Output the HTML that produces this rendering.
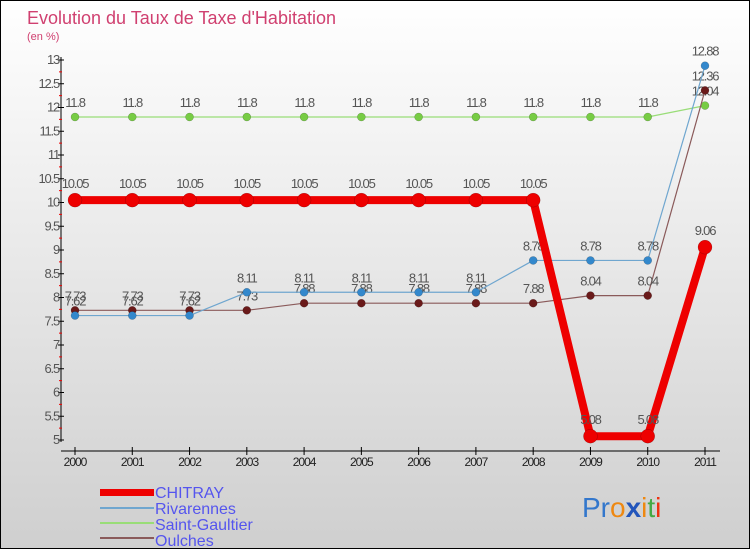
<!DOCTYPE html>
<html><head><meta charset="utf-8"><style>
body{margin:0;width:750px;height:550px;overflow:hidden;font-family:"Liberation Sans",sans-serif}
</style></head><body>
<svg id="chart" width="750" height="550" xmlns="http://www.w3.org/2000/svg" font-family="Liberation Sans, sans-serif">
<defs><linearGradient id="bg" x1="0" y1="0" x2="0" y2="1"><stop offset="0" stop-color="#ffffff"/><stop offset="1" stop-color="#cfcfcf"/></linearGradient></defs>
<rect x="0.5" y="0.5" width="749" height="548" fill="url(#bg)" stroke="#000"/>
<text x="27" y="24" font-size="18" fill="#d04070">Evolution du Taux de Taxe d'Habitation</text>
<text x="27" y="40" font-size="11" fill="#d04070">(en %)</text>
<g id="axes"></g><g id="series"></g>
<g>
<rect x="100" y="489" width="54" height="7" fill="#e00"/>
<rect x="100" y="507" width="54" height="2" fill="#6fa6cf"/>
<rect x="100" y="522" width="54" height="2" fill="#99dd77"/>
<rect x="100" y="537" width="54" height="2" fill="#8a5a5a"/>
<text x="155" y="498" font-size="16" fill="#5555ee">CHITRAY</text>
<text x="155" y="514" font-size="16" fill="#5555ee">Rivarennes</text>
<text x="155" y="530" font-size="16" fill="#5555ee">Saint-Gaultier</text>
<text x="155" y="546" font-size="16" fill="#5555ee">Oulches</text>
</g>
<text x="582" y="517" font-size="28"><tspan fill="#3377cc">Pr</tspan><tspan fill="#ee8811">o</tspan><tspan fill="#2255bb" font-weight="bold">x</tspan><tspan fill="#ee8811">i</tspan><tspan fill="#44aa44">t</tspan><tspan fill="#ee3311">i</tspan></text>
</svg>
<script>
const years=[2000,2001,2002,2003,2004,2005,2006,2007,2008,2009,2010,2011];
const yTicks=[5,5.5,6,6.5,7,7.5,8,8.5,9,9.5,10,10.5,11,11.5,12,12.5,13];
const chitray=[10.05,10.05,10.05,10.05,10.05,10.05,10.05,10.05,10.05,5.08,5.08,9.06];
const rivarennes=[7.62,7.62,7.62,8.11,8.11,8.11,8.11,8.11,8.78,8.78,8.78,12.88];
const saintGaultier=[11.8,11.8,11.8,11.8,11.8,11.8,11.8,11.8,11.8,11.8,11.8,12.04];
const oulches=[7.73,7.73,7.73,7.73,7.88,7.88,7.88,7.88,7.88,8.04,8.04,12.36];
const NS="http://www.w3.org/2000/svg";
const X=i=>75+i*(630/11);
const Y=v=>440-(v-5)*47.5;
function mk(p,t,a){const e=document.createElementNS(NS,t);for(const k in a)e.setAttribute(k,a[k]);p.appendChild(e);return e;}
const ax=document.getElementById('axes');
let e=mk(ax,'line',{x1:61,y1:57,x2:61,y2:442,stroke:'#000'});


e=mk(ax,'line',{x1:61,y1:451,x2:720,y2:451,stroke:'#000'});


yTicks.forEach(v=>{
 const t=mk(ax,'line',{x1:58,y1:Y(v),x2:64,y2:Y(v),stroke:'#000'});
 
 
 if(v<13){const m=mk(ax,'line',{x1:59,y1:Y(v+0.25),x2:62,y2:Y(v+0.25),stroke:'#e00'});
 
 }
 const l=mk(ax,'text',{x:59,y:Y(v)+4,'font-size':13,'text-anchor':'end',fill:'#555','letter-spacing':'-1.2'});l.textContent=String(v);
 
 
});
years.forEach((yr,i)=>{
 const t=mk(ax,'line',{x1:X(i),y1:447,x2:X(i),y2:455,stroke:'#000'});
 
 
 const l=mk(ax,'text',{x:X(i),y:466,'font-size':12,'text-anchor':'middle',fill:'#222','letter-spacing':'-1'});l.textContent=yr;
 
 
});
const sg=document.getElementById('series');
function draw(name,vals,color,dot,w,r,lblOff){
 const g=mk(sg,'g',{});
 
 
 const pl=mk(g,'polyline',{points:vals.map((v,i)=>X(i)+','+Y(v)).join(' '),fill:'none',stroke:color,'stroke-width':w,'stroke-linejoin':'round'});
 
 
 vals.forEach((v,i)=>{
  const c=mk(g,'circle',{cx:X(i),cy:Y(v),r:r,fill:dot,stroke:'rgba(0,0,0,0.3)','stroke-width':0.5});
  
  
  const t=mk(g,'text',{x:X(i),y:Y(v)+lblOff,'font-size':13,'text-anchor':'middle',fill:'#555','letter-spacing':'-1.2'});t.textContent=String(v);
  
  
 });
}
draw('saint-gaultier',saintGaultier,'#99dd77','#77cc44',1.2,4,-10);
draw('oulches',oulches,'#8a5a5a','#6a1a1a',1.2,4,-10);
draw('rivarennes',rivarennes,'#6fa6cf','#3388cc',1.2,4,-10);
draw('chitray',chitray,'#ee0000','#ee0000',8,7,-12);
</script>
</body></html>
